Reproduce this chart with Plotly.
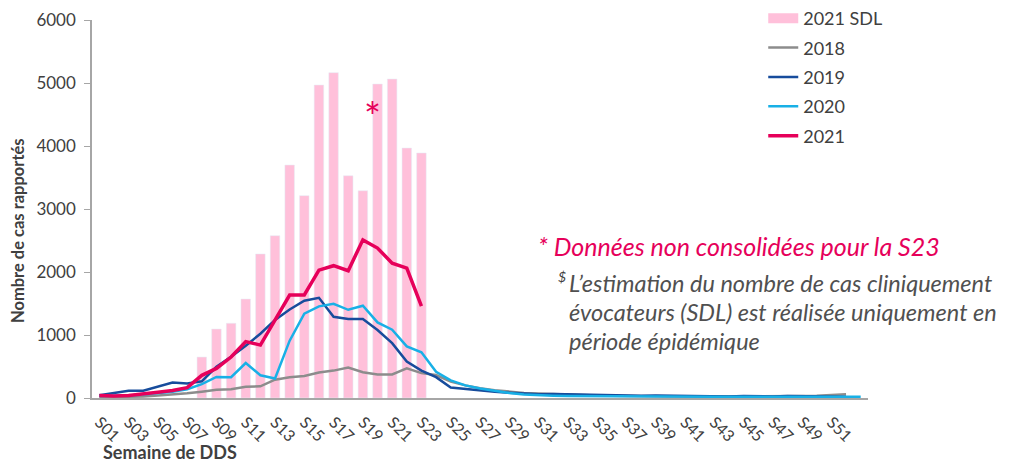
import plotly.graph_objects as go

weeks = [f"S{i:02d}" for i in range(1, 54)]
tick_weeks = [f"S{i:02d}" for i in range(1, 52, 2)]

sdl_weeks = [f"S{i:02d}" for i in range(8, 24)]
sdl_2021 = [650, 1095, 1186, 1571, 2286, 2576, 3698, 3212, 4968, 5164, 3528, 3290, 4984, 5063, 3968, 3889]

y2018 = [10, 12, 15, 25, 40, 55, 75, 100, 130, 140, 180, 185, 290, 330, 350, 405, 435, 485, 410, 375,
         375, 470, 395, 365, 260, 200, 155, 125, 100, 80, 70, 60, 50, 45, 40, 35, 30, 30, 30, 25,
         25, 25, 25, 20, 20, 20, 25, 25, 30, 35, 50, 60]
y2019 = [45, 80, 115, 115, 180, 245, 230, 265, 495, 655, 830, 1020, 1240, 1405, 1545, 1590, 1290, 1255, 1255, 1080,
         870, 580, 435, 330, 165, 140, 120, 100, 85, 70, 60, 65, 60, 50, 40, 35, 30, 35, 40, 35,
         30, 25, 30, 25, 30, 25, 25, 30, 25, 20, 25, 20]
y2020 = [30, 30, 40, 55, 80, 100, 140, 220, 335, 330, 555, 360, 310, 910, 1340, 1455, 1495, 1400, 1465, 1200,
         1085, 820, 725, 415, 280, 200, 150, 110, 80, 55, 40, 35, 30, 28, 25, 25, 22, 22, 22, 22,
         22, 22, 20, 20, 20, 20, 20, 20, 20, 20, 20, 20, 20]
y2021 = [40, 30, 40, 60, 90, 120, 165, 360, 470, 650, 895, 840, 1230, 1635, 1635, 2030, 2100, 2020, 2510, 2380,
         2140, 2060, 1460]

PINK = "#FFC0DA"
GRAY = "#8C8C8C"
DBLUE = "#174C9C"
LBLUE = "#18B0E6"
RED = "#E6005A"
TXT = "#404040"
FONT = "Lato"

fig = go.Figure()
fig.add_trace(go.Bar(x=sdl_weeks, y=sdl_2021, marker_color=PINK, name="2021 SDL",
                     showlegend=False, legendgroup="a"))
fig.add_trace(go.Scatter(x=[None], y=[None], mode="lines", line=dict(color=PINK, width=10),
                         name="2021 SDL", legendgroup="a"))
fig.add_trace(go.Scatter(x=weeks[:len(y2018)], y=y2018, mode="lines", line=dict(color=GRAY, width=2.5),
                         name="2018", legendgroup="b"))
fig.add_trace(go.Scatter(x=weeks[:len(y2019)], y=y2019, mode="lines", line=dict(color=DBLUE, width=2.5),
                         name="2019", legendgroup="c"))
fig.add_trace(go.Scatter(x=weeks[:len(y2020)], y=y2020, mode="lines", line=dict(color=LBLUE, width=2.5),
                         name="2020", legendgroup="d"))
fig.add_trace(go.Scatter(x=weeks[:len(y2021)], y=y2021, mode="lines", line=dict(color=RED, width=3.5),
                         name="2021", legendgroup="e"))

fig.update_layout(
    width=1011, height=463,
    margin=dict(l=84, r=151, t=12, b=73, autoexpand=False),
    plot_bgcolor="white", paper_bgcolor="white",
    font=dict(family=FONT, color=TXT),
    bargap=0.35,
    legend=dict(x=0.865, y=1.053, xanchor="left", yanchor="top", font=dict(size=18, color=TXT),
                traceorder="grouped", tracegroupgap=3, bgcolor="rgba(0,0,0,0)"),
    xaxis=dict(type="category", categoryorder="array", categoryarray=weeks, range=[-0.5, 52.5],
               tickmode="array", tickvals=tick_weeks, ticktext=tick_weeks, tickangle=45,
               tickfont=dict(size=16, color=TXT), showline=True, linecolor="#A6A6A6", linewidth=1.5,
               ticks="", ticklabelstandoff=7, showgrid=False, zeroline=False, automargin=False),
    yaxis=dict(range=[0, 6000], dtick=1000, tickfont=dict(size=17, color=TXT), showline=True,
               linecolor="#A6A6A6", linewidth=1.5, ticks="outside", ticklen=6, tickcolor="#A6A6A6",
               ticklabelstandoff=5, showgrid=False, zeroline=False, automargin=False),
)

def px(x):
    return (x - 92) / 776

def py(y):
    return (398 - y) / 378

fig.add_annotation(x=px(18), y=py(231), xref="paper", yref="paper", text="<b>Nombre de cas rapportés</b>",
                   textangle=-90, xanchor="center", yanchor="middle", showarrow=False,
                   font=dict(size=16.5, color=TXT))
fig.add_annotation(x=px(101), y=py(452), xref="paper", yref="paper", text="<b>Semaine de DDS</b>",
                   xanchor="left", yanchor="middle", showarrow=False, font=dict(size=18, color=TXT))
fig.add_annotation(x=px(372), y=py(117), xref="paper", yref="paper", text="*",
                   xanchor="center", yanchor="middle", showarrow=False, font=dict(size=40, color=RED))
fig.add_annotation(x=px(536), y=py(246), xref="paper", yref="paper", xanchor="left", yanchor="middle",
                   text="<i>* Données non consolidées pour la S23</i>",
                   showarrow=False, font=dict(size=25, color=RED))
fig.add_annotation(x=px(556), y=py(276), xref="paper", yref="paper", xanchor="left", yanchor="middle",
                   text="<i>$</i>", showarrow=False, font=dict(size=14, color=TXT))
for txt, yy in [("L’estimation du nombre de cas cliniquement", 283),
                ("évocateurs (SDL) est réalisée uniquement en", 312),
                ("période épidémique", 341)]:
    fig.add_annotation(x=px(567), y=py(yy), xref="paper", yref="paper", xanchor="left", yanchor="middle",
                       text=f"<i>{txt}</i>", showarrow=False, font=dict(size=23.5, color="#505050"))

fig.write_html("out.html")
